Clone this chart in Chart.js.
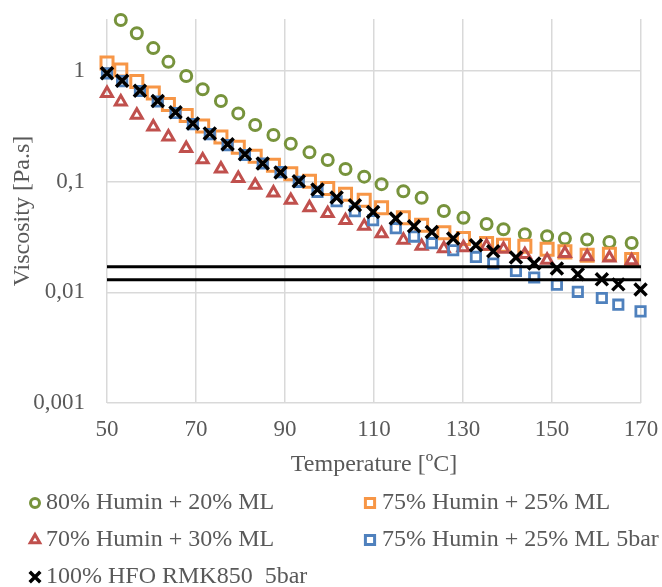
<!DOCTYPE html>
<html>
<head>
<meta charset="utf-8">
<script src="https://cdn.jsdelivr.net/npm/chart.js@4.4.1/dist/chart.umd.min.js"></script>
<style>
  html, body { margin: 0; padding: 0; background: #fff; }
  #wrap { width: 662px; height: 587px; }
</style>
</head>
<body>
<div id="wrap"><canvas id="viscChart" width="662" height="587"></canvas></div>
<script>
// Temperatures [ºC] for the ML blends (ambient pressure runs)
const tempsBlend = [50, 53.1, 56.7, 60.4, 63.8, 67.8, 71.5, 75.6, 79.5, 83.3, 87.4, 91.3, 95.5, 99.6,
  103.6, 107.8, 111.7, 116.6, 120.7, 125.7, 130.1, 135.3, 139.1, 143.9, 148.9, 152.9, 157.9, 162.9, 167.9];
// Temperatures [ºC] for the 5 bar runs
const temps5bar = [50, 53.4, 57.4, 61.4, 65.4, 69.3, 73.1, 77.1, 81.0, 85.0, 89.0, 93.1, 97.3, 101.6,
  105.7, 109.8, 114.9, 119.0, 123.0, 127.8, 132.9, 136.8, 141.9, 146.0, 151.1, 155.8, 161.2, 164.9, 169.9];

// Viscosity [Pa.s]
const humin80 = [null, 2.89, 2.19, 1.61, 1.21, 0.90, 0.683, 0.535, 0.414, 0.325, 0.264, 0.220, 0.184, 0.157,
  0.130, 0.111, 0.095, 0.082, 0.0716, 0.0543, 0.0472, 0.0415, 0.0372, 0.0335, 0.0321, 0.0306, 0.030, 0.0285, 0.0279];
const humin75 = [1.18, 1.02, 0.803, 0.632, 0.497, 0.396, 0.318, 0.253, 0.205, 0.170, 0.141, 0.118, 0.101, 0.0868,
  0.0771, 0.068, 0.0582, 0.0472, 0.0404, 0.0345, 0.0306, 0.0276, 0.0266, 0.0261, 0.0245, 0.0232, 0.0216, 0.0221, 0.0198];
const humin70 = [0.628, 0.527, 0.400, 0.313, 0.254, 0.200, 0.158, 0.1305, 0.107, 0.0929, 0.0792, 0.068, 0.0584, 0.0516,
  0.0446, 0.0396, 0.034, 0.0296, 0.0261, 0.0249, 0.0254, 0.0262, 0.0246, 0.022, 0.0196, 0.0225, 0.021, 0.0205, 0.0194];
const humin75at5bar = [0.953, 0.81, 0.66, 0.53, 0.417, 0.331, 0.269, 0.214, 0.174, 0.146, 0.122, 0.0996, 0.0809, 0.0666,
  0.054, 0.0448, 0.038, 0.0319, 0.0278, 0.024, 0.0209, 0.0182, 0.0156, 0.0136, 0.0117, 0.0101, 0.00888, 0.00774, 0.00673];
const hfo5bar = [0.953, 0.817, 0.663, 0.535, 0.423, 0.336, 0.273, 0.218, 0.177, 0.146, 0.121, 0.101, 0.085, 0.072,
  0.0613, 0.0533, 0.0465, 0.0396, 0.0351, 0.0306, 0.0266, 0.0235, 0.0206, 0.0182, 0.0164, 0.0146, 0.0131, 0.0118, 0.0106];

// Injection viscosity window
const limitRange = [50, 170];
const limitHigh = 0.017;
const limitLow = 0.013;

const yTicks = [0.001, 0.01, 0.1, 1];
const xTicks = [50, 70, 90, 110, 130, 150, 170];

const textColor = '#595959';
const serif = '"Liberation Serif", "Times New Roman", serif';
Chart.defaults.font.family = serif;
Chart.defaults.color = textColor;

function pairs(xs, ys) {
  return xs.map((x, i) => ({ x: x, y: ys[i] })).filter(p => p.y !== null);
}

function markerSet(label, xs, ys, color, style, radius, width, order) {
  return {
    label: label,
    data: pairs(xs, ys),
    showLine: false,
    pointStyle: style,
    pointRadius: radius,
    pointHoverRadius: radius,
    pointBorderWidth: width,
    borderColor: color,
    backgroundColor: 'rgba(0,0,0,0)',
    clip: false,
    order: order
  };
}

function limitLine(value) {
  return {
    label: 'limit',
    inLegend: false,
    data: limitRange.map(x => ({ x: x, y: value })),
    showLine: true,
    pointRadius: 0,
    borderColor: '#000',
    borderWidth: 3,
    order: 0
  };
}

// no label overhang: the plot box is placed by the layout padding alone
function noOverhang(s) {
  s.paddingTop = 0;
  s.paddingBottom = 0;
  s.paddingLeft = 0;
  s.paddingRight = 0;
}

// Two-column legend under the axis
const gridLegend = {
  id: 'gridLegend',
  afterDraw(chart) {
    const ctx = chart.ctx;
    const markX = [35, 370];
    const textX = [46, 382];
    const rowY = [503, 540, 577];
    ctx.save();
    ctx.font = '24px ' + serif;
    ctx.textBaseline = 'middle';
    ctx.textAlign = 'left';
    let n = 0;
    chart.data.datasets.forEach(ds => {
      if (ds.inLegend === false) return;
      const col = n % 2, row = Math.floor(n / 2);
      const style = ds.pointStyle;
      ctx.strokeStyle = ds.borderColor;
      ctx.fillStyle = 'rgba(0,0,0,0)';
      ctx.lineWidth = style === 'crossRot' ? 3.5 : 3;
      Chart.helpers.drawPoint(ctx, {
        pointStyle: style,
        radius: style === 'crossRot' ? 7.5 : style === 'circle' ? 4.5 : style === 'triangle' ? 5.5 : 6.5,
        rotation: 0,
        borderWidth: ctx.lineWidth
      }, markX[col], rowY[row]);
      ctx.fillStyle = textColor;
      ctx.fillText(ds.label, textX[col], rowY[row]);
      n++;
    });
    ctx.restore();
  }
};

new Chart(document.getElementById('viscChart'), {
  type: 'scatter',
  data: {
    datasets: [
      markerSet('80% Humin + 20% ML', tempsBlend, humin80, '#77933C', 'circle', 5.5, 3, 5),
      markerSet('75% Humin + 25% ML', tempsBlend, humin75, '#F79646', 'rect', 8.5, 3, 4),
      markerSet('70% Humin + 30% ML', tempsBlend, humin70, '#C0504D', 'triangle', 6.3, 3, 3),
      markerSet('75% Humin + 25% ML 5bar', temps5bar, humin75at5bar, '#4F81BD', 'rect', 6.6, 2.8, 2),
      markerSet('100% HFO RMK850  5bar', temps5bar, hfo5bar, '#000000', 'crossRot', 8.5, 3.5, 1),
      limitLine(limitHigh),
      limitLine(limitLow)
    ]
  },
  options: {
    responsive: false,
    animation: false,
    layout: { padding: { top: 19, right: 21, bottom: 104, left: 0 } },
    plugins: {
      legend: { display: false },
      tooltip: { enabled: false }
    },
    scales: {
      x: {
        type: 'linear',
        min: 50,
        max: 170,
        afterFit: s => { s.height = 80; noOverhang(s); },
        afterBuildTicks: s => { s.ticks = xTicks.map(v => ({ value: v })); },
        grid: { color: '#d9d9d9', lineWidth: 1.5, drawTicks: false },
        border: { display: false },
        ticks: { padding: 13, font: { size: 23 }, color: textColor },
        title: {
          display: true,
          text: 'Temperature [ºC]',
          font: { size: 24 },
          color: textColor,
          padding: { top: 0, bottom: 4 }
        }
      },
      y: {
        type: 'logarithmic',
        min: 0.001,
        max: 2.95,
        afterFit: s => { s.width = 107; noOverhang(s); },
        afterBuildTicks: s => { s.ticks = yTicks.map(v => ({ value: v, major: true })); },
        grid: { color: '#d9d9d9', lineWidth: 1.5, drawTicks: false },
        border: { display: false },
        ticks: {
          padding: 22,
          font: { size: 23 },
          color: textColor,
          callback: v => String(v).replace('.', ',')
        },
        title: {
          display: true,
          text: 'Viscosity [Pa.s]',
          font: { size: 24 },
          color: textColor,
          padding: { top: 8, bottom: 0 }
        }
      }
    }
  },
  plugins: [gridLegend]
});
</script>
</body>
</html>
